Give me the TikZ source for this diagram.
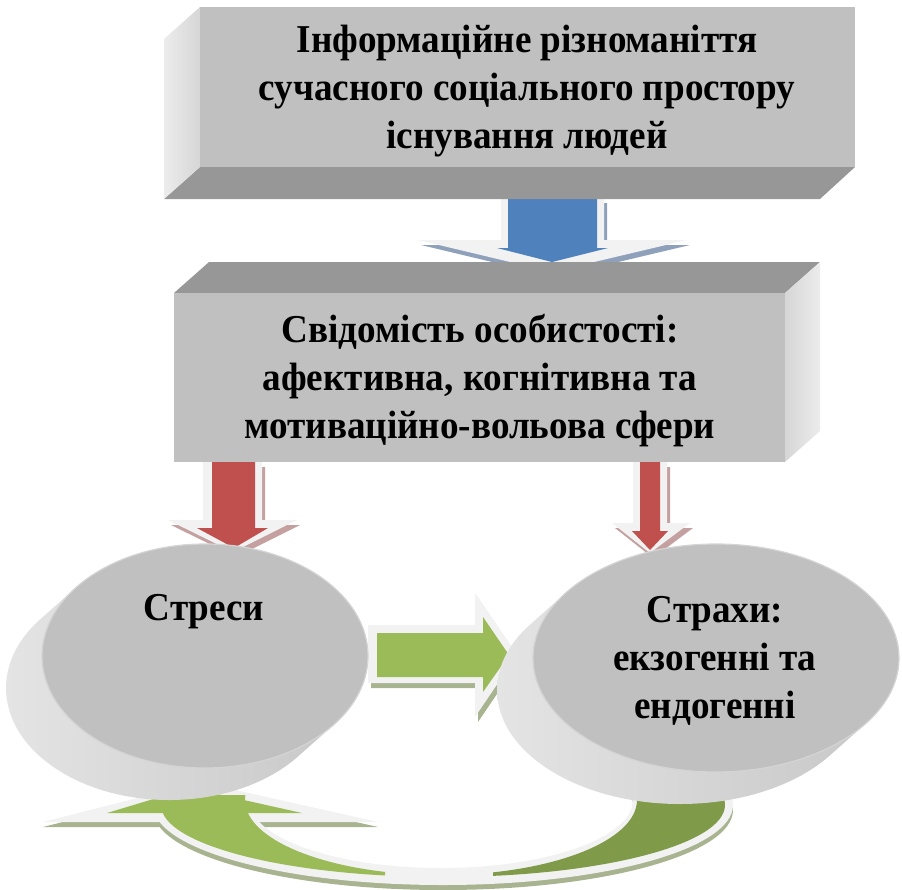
\documentclass[tikz,border=0pt]{standalone}
\usepackage{fontspec}
\setmainfont{Liberation Serif}[FakeStretch=0.94]
\definecolor{frontgray}{HTML}{C0C0C0}
\definecolor{darkface}{HTML}{979797}
\definecolor{sideA}{HTML}{ECECEC}
\definecolor{sideB}{HTML}{D6D6D6}
\definecolor{glowgray}{HTML}{F2F2F2}
\definecolor{arrowblue}{HTML}{4F81BD}
\definecolor{blueshadow}{HTML}{8FA1BA}
\definecolor{arrowred}{HTML}{C0504D}
\definecolor{redshadow}{HTML}{C4A0A0}
\definecolor{arrowgreen}{HTML}{9BBB59}
\definecolor{darkgreen}{HTML}{7F9A48}
\definecolor{greenshadow}{HTML}{A8B490}
\definecolor{cylL}{HTML}{E4E4E4}
\definecolor{cylD}{HTML}{989898}
\definecolor{cylR}{HTML}{C6C6C6}
\definecolor{cylrim}{HTML}{D4D4D4}
\begin{document}
\begin{tikzpicture}[x=1pt,y=-1pt,
  lbl/.style={font=\bfseries\fontsize{39.5}{48}\selectfont, align=center, inner sep=0pt, text=black},
  glow/.style={fill=glowgray},
  frontface/.style={fill=frontgray},
  cylside/.style={left color=cylL, middle color=cylD, right color=cylR},
  cylfront/.style={fill=frontgray, draw=cylrim, line width=1.2pt}]
\useasboundingbox (0,0) rectangle (902,889);

% ---------- blue arrow ----------
\fill[blueshadow, shift={(3,5)}] (501,198) -- (604,198) -- (604,240) -- (687,240) -- (552,272) -- (418,240) -- (501,240) -- cycle;
\fill[glow] (501,198) -- (604,198) -- (604,240) -- (687,240) -- (552,272) -- (418,240) -- (501,240) -- cycle;
\fill[arrowblue] (508,198) -- (597,198) -- (597,248) -- (608,248) -- (552,262) -- (497,248) -- (508,248) -- cycle;

% ---------- red arrows ----------
\fill[redshadow, shift={(3,5)}] (203,462) -- (262,462) -- (262,520) -- (297,520) -- (233,552) -- (168,520) -- (203,520) -- cycle;
\fill[glow] (203,462) -- (262,462) -- (262,520) -- (297,520) -- (233,552) -- (168,520) -- (203,520) -- cycle;
\fill[arrowred] (212,462) -- (255,462) -- (255,528) -- (268,528) -- (234,548) -- (197,528) -- (212,528) -- cycle;

\fill[redshadow, shift={(3,5)}] (633,462) -- (667,462) -- (667,523) -- (690,523) -- (650,553) -- (612,523) -- (633,523) -- cycle;
\fill[glow] (633,462) -- (667,462) -- (667,523) -- (690,523) -- (650,553) -- (612,523) -- (633,523) -- cycle;
\fill[arrowred] (640,462) -- (660,462) -- (660,531) -- (668,531) -- (650,550) -- (632,531) -- (640,531) -- cycle;

% ---------- green straight arrow ----------
\fill[greenshadow, shift={(3,5)}] (368,625) -- (475,625) -- (475,593) -- (517,655) -- (475,717) -- (475,683) -- (368,683) -- cycle;
\fill[glow] (368,625) -- (475,625) -- (475,593) -- (517,655) -- (475,717) -- (475,683) -- (368,683) -- cycle;
\fill[arrowgreen] (377,633) -- (483,633) -- (483,617) -- (509,655) -- (483,692) -- (483,677) -- (377,677) -- cycle;

% ---------- green curved arrow ----------
\fill[greenshadow, shift={(0,5)}] (43,822) -- (200,782) -- (378,822) -- cycle;
\begin{scope}
  \clip (0,795) rectangle (902,889);
  \fill[greenshadow, even odd rule, shift={(0,5)}] (443,805) ellipse [x radius=290, y radius=80] (441,800) ellipse [x radius=192, y radius=68];
  \fill[glowgray, even odd rule] (443,805) ellipse [x radius=290, y radius=80] (441,800) ellipse [x radius=192, y radius=68];
\end{scope}
\fill[glow] (43,822) -- (200,782) -- (378,822) -- cycle;
\begin{scope}
  \clip (0,795) rectangle (385,889);
  \fill[arrowgreen, even odd rule] (443,805) ellipse [x radius=282, y radius=72] (441,800) ellipse [x radius=196, y radius=75];
\end{scope}
\begin{scope}
  \clip (493,795) rectangle (902,889);
  \fill[darkgreen, even odd rule] (443,805) ellipse [x radius=282, y radius=72] (441,800) ellipse [x radius=196, y radius=75];
\end{scope}
\fill[arrowgreen] (107,813) -- (190,788) -- (302,813) -- cycle;

% ---------- top box ----------
\fill[darkface] (200,167) -- (855,167) -- (820,199) -- (164,199) -- cycle;
\shade[left color=sideA, right color=sideB] (200,7) -- (164,39) -- (164,199) -- (200,167) -- cycle;
\fill[frontface] (200,7) rectangle (855,167);
\node[lbl] (info) at (527,90.7) {Інформаційне різноманіття\\сучасного соціального простору\\існування людей};

% ---------- second box ----------
\fill[darkface] (209,262) -- (820,262) -- (785,293) -- (174,293) -- cycle;
\shade[left color=sideB, right color=sideA] (785,293) -- (820,262) -- (820,431) -- (785,462) -- cycle;
\fill[frontface] (174,293) rectangle (785,462);
\node[lbl] (consc) at (480,380.7) {Свідомість особистості:\\афективна, когнітивна та\\мотиваційно-вольова сфери};

% ---------- left cylinder ----------
\shade[cylside] \foreach \i in {0,...,48} { ({205-0.75*\i},{656+0.6667*\i}) ellipse [x radius=163, y radius=112] };
\fill[cylfront] (205,656) ellipse [x radius=163, y radius=112];
\node[lbl, anchor=base] (stress) at (204,620) {Стреси};

% ---------- right cylinder ----------
\shade[cylside] \foreach \i in {0,...,48} { ({716-0.75*\i},{658+0.6667*\i}) ellipse [x radius=183, y radius=114] };
\fill[cylfront] (716,658) ellipse [x radius=183, y radius=114];
\node[lbl] (fear) at (715,660.6) {Страхи:\\екзогенні та\\ендогенні};
\end{tikzpicture}
\end{document}
